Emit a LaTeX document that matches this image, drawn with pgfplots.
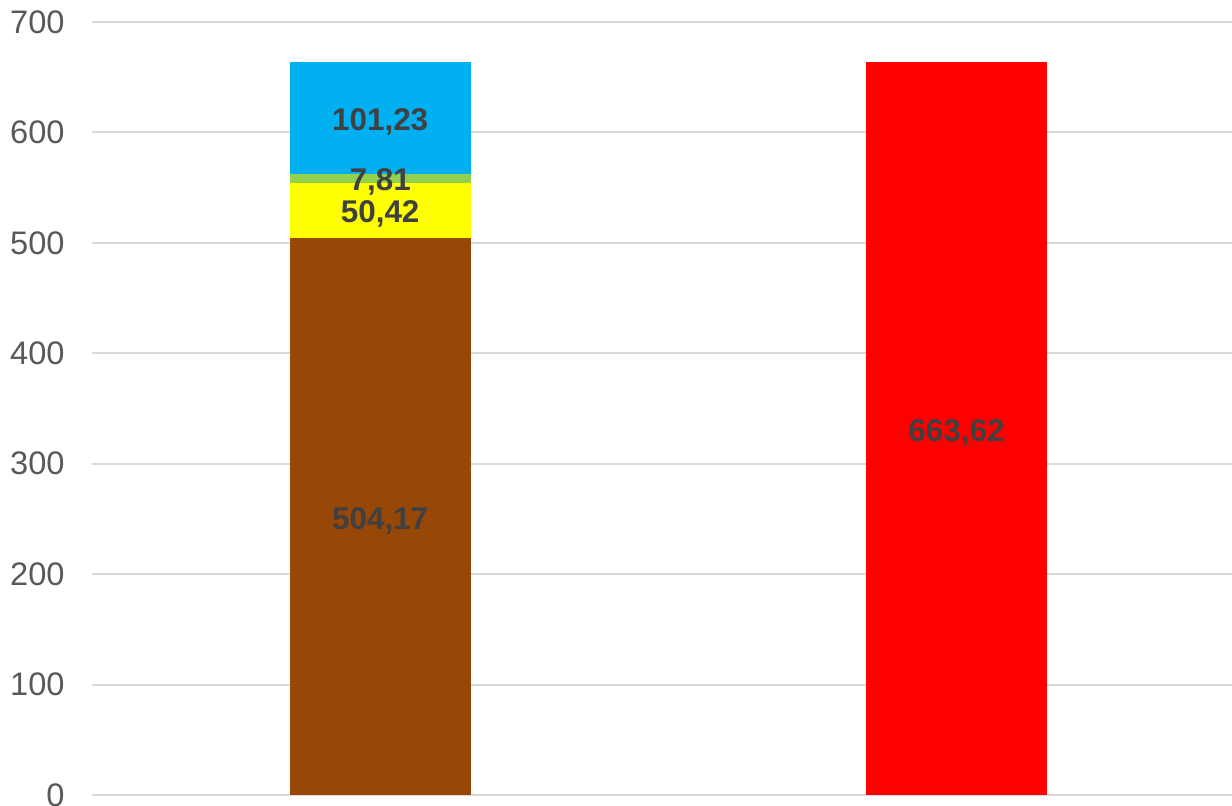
\documentclass[border=0pt]{standalone}
\usepackage{pgfplots}
\pgfplotsset{compat=1.18}
\usepackage{pgfplotstable}
\usepackage{fontspec}
\setmainfont{Liberation Sans}

\definecolor{cBrown}{HTML}{974706}
\definecolor{cYellow}{HTML}{FFFF00}
\definecolor{cGreen}{HTML}{92D050}
\definecolor{cBlue}{HTML}{00B0F0}
\definecolor{cRed}{HTML}{FF0000}
\definecolor{gridc}{HTML}{D9D9D9}
\definecolor{tickc}{HTML}{595959}
\definecolor{labc}{HTML}{404040}

% segment labels, placed at the middle of each segment
\pgfplotstableread{
x y label
1 252.085 504,17
1 529.38 50,42
1 558.495 7,81
1 613.015 101,23
2 331.81 663,62
}\labels

\pgfplotsset{
  base/.style={
    scale only axis,
    width=570pt, height=386.5pt,
    xmin=0.5, xmax=2.478,
    ymin=0, ymax=700,
    xtick=\empty,
  },
}

\begin{document}
\begin{tikzpicture}
\begin{axis}[
  base,
  ybar stacked,
  bar width=0.314,
  ytick={0,100,...,700},
  ymajorgrids,
  grid style={gridc, line width=1pt},
  axis line style={draw=none},
  major tick style={draw=none},
  /pgf/number format/assume math mode=true,
  yticklabel style={font=\fontsize{16.3}{19}\selectfont, text=tickc, anchor=east, inner sep=0pt, xshift=-13.5pt},
]
  \coordinate (sw) at (rel axis cs:0,0);
  \coordinate (ne) at (rel axis cs:1,1);
  \addplot[fill=cBrown, draw=none] coordinates {(1,504.17) (2,0)};
  \addplot[fill=cYellow, draw=none] coordinates {(1,50.42) (2,0)};
  \addplot[fill=cGreen, draw=none] coordinates {(1,7.81) (2,0)};
  \addplot[fill=cBlue, draw=none] coordinates {(1,101.23) (2,0)};
  \addplot[fill=cRed, draw=none] coordinates {(1,0) (2,663.62)};
\end{axis}
\begin{axis}[
  base,
  hide axis,
]
  \addplot[draw=none, mark=none, nodes near coords, point meta=explicit symbolic,
    every node near coord/.style={anchor=center, inner sep=0pt, yshift=-2pt, text=labc,
      font=\fontsize{15.7}{18}\selectfont\bfseries}]
    table[x=x, y=y, meta=label] {\labels};
\end{axis}
\pgfresetboundingbox
\path (sw) ++(-46pt,-5.25pt) rectangle ([yshift=11pt]ne);
\end{tikzpicture}
\end{document}
